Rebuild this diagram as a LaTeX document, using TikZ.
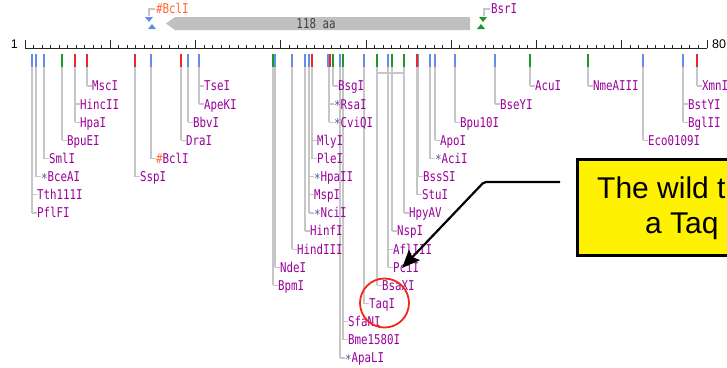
\documentclass[tikz,border=0pt]{standalone}
\usepackage{fontspec}
\newfontfamily\mapfont[FakeStretch=0.8]{DejaVu Sans Mono}
\newfontfamily\notefont{Liberation Sans}
\usetikzlibrary{arrows.meta}

\definecolor{enz}{RGB}{153,0,153}
\definecolor{starc}{RGB}{85,85,155}
\definecolor{hashc}{RGB}{255,102,51}
\definecolor{cutblue}{RGB}{100,140,235}
\definecolor{cutred}{RGB}{235,40,40}
\definecolor{cutgreen}{RGB}{30,150,40}
\definecolor{guide}{RGB}{198,198,198}
\definecolor{bargray}{RGB}{192,192,192}
\definecolor{ringred}{RGB}{240,40,20}

% row of label #1 (rows are 18.13 units apart, first row at 86)
\newcommand\rowy[1]{86+18.13*#1}
% coloured cut mark under the ruler
\newcommand\cutmark[2]{\draw[cutmark,#2] (#1,54) -- (#1,67);}
% grey guide from a cut mark down to its last label row
\newcommand\guide[2]{\draw[guideline] (#1,67) -- (#1,{\rowy{#2}});}
% enzyme label: name, site x, row, text
\newcommand\enzyme[4]{%
  \node[lbl] (#1) at ({#2+5},{\rowy{#3}}) {#4};
  \draw[guideline] (#2,{\rowy{#3}}) -- (#1.west);}
\newcommand\st{\textcolor{starc}{\raisebox{-1.5pt}{*}}}
\newcommand\hs{\textcolor{hashc}{\#}}

\begin{document}
\begin{tikzpicture}[x=1pt,y=-1pt,
  lbl/.style={font={\mapfont\fontsize{13.5pt}{14pt}\selectfont}, text=enz,
    inner sep=0pt, anchor=west, text height=11.5pt, text depth=1.66pt},
  guideline/.style={draw=guide, line width=1.3pt},
  cutmark/.style={line width=1.6pt},
  rulerline/.style={draw=black!85, line width=1pt},
  numfont/.style={font={\notefont\fontsize{12.5pt}{13pt}\selectfont}, inner sep=0pt},
  notetext/.style={font={\notefont\fontsize{30pt}{34pt}\selectfont}, inner sep=0pt, anchor=base west}]
\useasboundingbox (0,0) rectangle (727,367);
\clip (0,0) rectangle (727,367);

% ---- protein bar and top cut sites ----
\fill[bargray] (166,23.5) -- (175,17) -- (470,17) -- (470,30) -- (175,30) -- cycle;
\node[lbl, anchor=center, text=black!75] (aa) at (316,23.5) {118 aa};

\fill[cutblue] (145,17) -- (153,17) -- (149,22) -- cycle;
\fill[cutblue] (148,29) -- (156,29) -- (152,24) -- cycle;
\draw[guideline] (149,16) |- (155,9);
\node[lbl, text=hashc] (BclItop) at (156,9) {\#BclI};

\fill[cutgreen] (479,17) -- (487,17) -- (483,22) -- cycle;
\fill[cutgreen] (477,29) -- (485,29) -- (481,24) -- cycle;
\draw[guideline] (484,16) |- (490,9);
\node[lbl] (BsrI) at (491,9) {BsrI};

% ---- ruler ----
\draw[rulerline] (25,48) -- (707,48);
\foreach \i in {0,...,80} \draw[rulerline] ({25+8.525*\i},48) -- ++(0,-3);
\foreach \i in {0,10,...,80} \draw[rulerline] ({25+8.525*\i},48) -- ++(0,-8);
\node[numfont, anchor=east] (one) at (18,44.5) {1};
\node[numfont, anchor=west] (eighty) at (712,44.5) {80};

% ---- guides ----
\guide{32}{7}\guide{36}{5}\guide{44}{4}\guide{62}{3}\guide{75}{2}\guide{87}{0}
\guide{135}{5}\guide{151}{4}\guide{181}{3}\guide{188}{2}\guide{199}{1}
\guide{273}{11}\guide{275}{10}\guide{292}{9}\guide{305}{8}\guide{309}{7}\guide{312}{4}
\guide{329}{2}\guide{333}{0}\guide{340}{15}\guide{343}{14}\guide{364}{12}
\guide{377}{11}\guide{388}{10}\guide{392}{8}\guide{404}{7}
\draw[guideline] (417,67) -- (417,{\rowy{6}});
\draw[guideline] (418,67) -- (418,{\rowy{5}});
\guide{430}{4}\guide{435}{3}\guide{455}{2}\guide{495}{1}\guide{530}{0}\guide{588}{0}
\guide{643}{3}\guide{683}{2}\guide{697}{0}
\draw[guideline] (377,73) -- (404,73);

% ---- cut marks ----
\cutmark{32}{cutblue}\cutmark{36}{cutblue}\cutmark{44}{cutblue}\cutmark{62}{cutgreen}
\cutmark{75}{cutred}\cutmark{87}{cutred}\cutmark{135}{cutred}\cutmark{151}{cutblue}
\cutmark{181}{cutred}\cutmark{188}{cutblue}\cutmark{199}{cutblue}
\cutmark{273}{cutgreen}\cutmark{275}{cutblue}\cutmark{292}{cutblue}\cutmark{305}{cutblue}
\cutmark{309}{cutblue}\cutmark{312}{cutred}\cutmark{328.2}{cutblue}\cutmark{329.8}{cutred}
\cutmark{333}{cutgreen}\cutmark{340}{cutblue}\cutmark{343}{cutgreen}\cutmark{364}{cutblue}
\cutmark{377}{cutgreen}\cutmark{388}{cutblue}\cutmark{392}{cutgreen}\cutmark{404}{cutgreen}
\cutmark{416.7}{cutred}\cutmark{418.3}{cutblue}\cutmark{430}{cutblue}\cutmark{435}{cutblue}
\cutmark{455}{cutblue}\cutmark{495}{cutblue}\cutmark{530}{cutgreen}\cutmark{588}{cutgreen}
\cutmark{643}{cutblue}\cutmark{683}{cutblue}\cutmark{697}{cutred}

% ---- enzyme labels ----
\enzyme{Tth111I}{32}{6}{Tth111I}
\enzyme{PflFI}{32}{7}{PflFI}
\enzyme{BceAI}{36}{5}{\st BceAI}
\enzyme{SmlI}{44}{4}{SmlI}
\enzyme{BpuEI}{62}{3}{BpuEI}
\enzyme{HincII}{75}{1}{HincII}
\enzyme{HpaI}{75}{2}{HpaI}
\enzyme{MscI}{87}{0}{MscI}
\enzyme{SspI}{135}{5}{SspI}
\enzyme{BclIsite}{151}{4}{\hs BclI}
\enzyme{DraI}{181}{3}{DraI}
\enzyme{BbvI}{188}{2}{BbvI}
\enzyme{TseI}{199}{0}{TseI}
\enzyme{ApeKI}{199}{1}{ApeKI}
\enzyme{BpmI}{273}{11}{BpmI}
\enzyme{NdeI}{275}{10}{NdeI}
\enzyme{HindIII}{292}{9}{HindIII}
\enzyme{HinfI}{305}{8}{HinfI}
\enzyme{HpaII}{309}{5}{\st HpaII}
\enzyme{MspI}{309}{6}{MspI}
\enzyme{NciI}{309}{7}{\st NciI}
\enzyme{MlyI}{312}{3}{MlyI}
\enzyme{PleI}{312}{4}{PleI}
\enzyme{RsaI}{329}{1}{\st RsaI}
\enzyme{CviQI}{329}{2}{\st CviQI}
\enzyme{BsgI}{333}{0}{BsgI}
\enzyme{ApaLI}{340}{15}{\st ApaLI}
\enzyme{SfaNI}{343}{13}{SfaNI}
\enzyme{Bme1580I}{343}{14}{Bme1580I}
\enzyme{TaqI}{364}{12}{TaqI}
\enzyme{BsaXI}{377}{11}{BsaXI}
\enzyme{AflIII}{388}{9}{AflIII}
\enzyme{PciI}{388}{10}{PciI}
\enzyme{NspI}{392}{8}{NspI}
\enzyme{HpyAV}{404}{7}{HpyAV}
\enzyme{BssSI}{418}{5}{BssSI}
\enzyme{StuI}{417}{6}{StuI}
\enzyme{AciI}{430}{4}{\st AciI}
\enzyme{ApoI}{435}{3}{ApoI}
\enzyme{Bpu10I}{455}{2}{Bpu10I}
\enzyme{BseYI}{495}{1}{BseYI}
\enzyme{AcuI}{530}{0}{AcuI}
\enzyme{NmeAIII}{588}{0}{NmeAIII}
\enzyme{Eco0109I}{643}{3}{Eco0109I}
\enzyme{BstYI}{683}{1}{BstYI}
\enzyme{BglII}{683}{2}{BglII}
\enzyme{XmnI}{697}{0}{XmnI}

% ---- highlight ring round TaqI ----
\node[draw=ringred, line width=1.8pt, circle, minimum size=49pt, inner sep=0pt] (ring) at (384.5,303) {};

% ---- callout ----
\node[draw=black, line width=2.8pt, fill=yellow, minimum width=180pt, minimum height=96pt,
      anchor=north west, inner sep=0pt] (note) at (576,158) {};
\node[notetext] (note1) at (597,198) {The wild t};
\node[notetext] (note2) at (645,233) {a Taq};
\coordinate (tail) at (560,182);
\coordinate (bend) at (484,182);
\coordinate (tip) at (402,268);
\draw[line width=2.2pt, rounded corners=2pt, -{Stealth[length=18pt, width=15pt, inset=3pt]}]
  (tail) -- (bend) -- (tip);
\end{tikzpicture}
\end{document}
